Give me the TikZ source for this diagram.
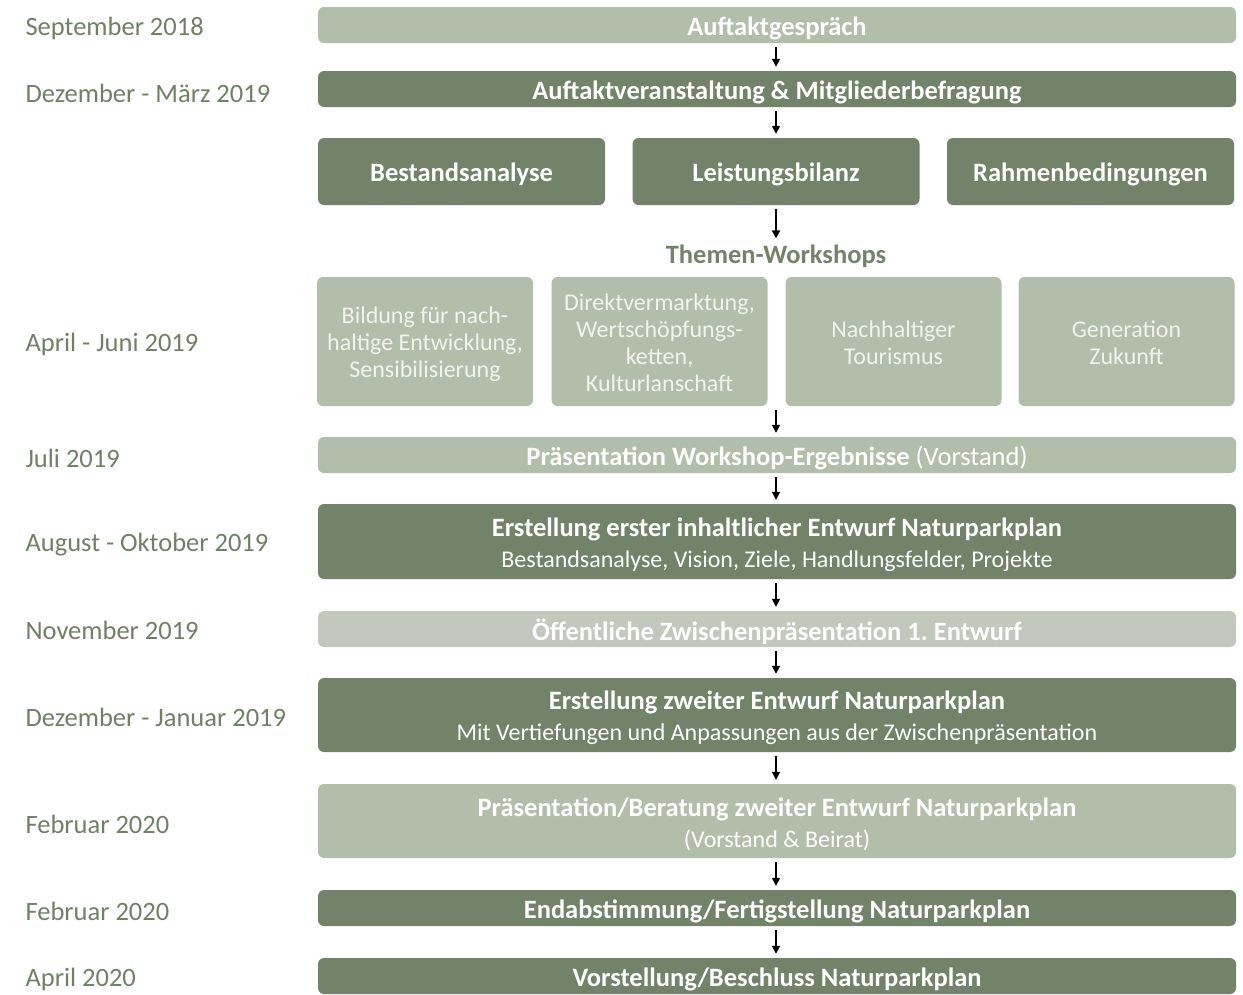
\documentclass[tikz,border=0pt]{standalone}
\usepackage{fontspec}
\setmainfont{Carlito}
\usetikzlibrary{arrows.meta}
\definecolor{lightgreen}{HTML}{B2BDAA}
\definecolor{darkgreen}{HTML}{72836A}
\definecolor{palegray}{HTML}{C2C8BD}
\definecolor{datecolor}{HTML}{6F8064}
\definecolor{softwhite}{HTML}{F1F3EE}
\newcommand{\sublinefont}{\fontsize{24}{29}\selectfont\mdseries}
\frenchspacing
\begin{document}
\begin{tikzpicture}[x=1pt,y=-1pt,
  boxtext/.style={inner sep=0pt, align=center, text=white, yshift=-3pt, font=\fontsize{26.5}{31}\selectfont\bfseries},
  wstext/.style={inner sep=0pt, align=center, text=softwhite, font=\fontsize{24}{27}\selectfont},
  base/.style={rounded corners=6pt, inner sep=0pt},
  lightbox/.style={base, fill=lightgreen},
  darkbox/.style={base, fill=darkgreen},
  palebox/.style={base, fill=palegray},
  wide/.style={minimum width=918pt},
  wsbox/.style={base, fill=lightgreen, minimum width=216pt, minimum height=129pt},
  date/.style={anchor=west, text=datecolor, yshift=-2pt, font=\fontsize{26.5}{31}\selectfont},
  arr/.style={-{Triangle[length=8pt,width=8pt]}, line width=1.4pt, black, shorten <=4pt, shorten >=4pt}
]
\useasboundingbox (0,0) rectangle (1243,994);

% timeline boxes
\node[lightbox, wide, minimum height=36pt, label={[boxtext]center:{Auftaktgespräch}}] (b1) at (777,25) {};
\node[darkbox, wide, minimum height=36pt, label={[boxtext]center:{Auftaktveranstaltung \& Mitgliederbefragung}}] (b2) at (777,89) {};

\node[darkbox, minimum width=287pt, minimum height=67pt, label={[boxtext]center:{Bestandsanalyse}}] (a1) at (461.5,171.5) {};
\node[darkbox, minimum width=287pt, minimum height=67pt, label={[boxtext]center:{Leistungsbilanz}}] (a2) at (776,171.5) {};
\node[darkbox, minimum width=287pt, minimum height=67pt, label={[boxtext]center:{Rahmenbedingungen}}] (a3) at (1090.5,171.5) {};

\node[text=darkgreen, font=\fontsize{26.5}{31}\selectfont\bfseries, inner sep=2pt] (tw) at (776,256) {Themen-Workshops};

% workshop topics
\node[wsbox, label={[wstext, yshift=-3pt]center:{Bildung für nach-\\haltige Entwicklung,\\Sensibilisierung}}] (w1) at (425,341.5) {};
\node[wsbox, label={[wstext, yshift=-1pt]center:{Direktvermarktung,\\Wertschöpfungs-\\ketten,\\Kulturlanschaft}}] (w2) at (659.5,341.5) {};
\node[wsbox, label={[wstext, yshift=-1pt]center:{Nachhaltiger\\Tourismus}}] (w3) at (893.5,341.5) {};
\node[wsbox, label={[wstext, yshift=-1pt]center:{Generation\\Zukunft}}] (w4) at (1126.5,341.5) {};
\coordinate (wsb) at (776,406);

\node[lightbox, wide, minimum height=36pt, label={[boxtext]center:{Präsentation Workshop-Ergebnisse {\mdseries (Vorstand)}}}] (p1) at (777,455) {};
\node[darkbox, wide, minimum height=75pt, label={[boxtext]center:{Erstellung erster inhaltlicher Entwurf Naturparkplan\\{\sublinefont Bestandsanalyse, Vision, Ziele, Handlungsfelder, Projekte}}}] (e1) at (777,541.5) {};
\node[palebox, wide, minimum height=36pt, label={[boxtext]center:{Öffentliche Zwischenpräsentation 1. Entwurf}}] (z1) at (777,629) {};
\node[darkbox, wide, minimum height=74pt, label={[boxtext]center:{Erstellung zweiter Entwurf Naturparkplan\\{\sublinefont Mit Vertiefungen und Anpassungen aus der Zwischenpräsentation}}}] (e2) at (777,715) {};
\node[lightbox, wide, minimum height=74pt, label={[boxtext]center:{Präsentation/Beratung zweiter Entwurf Naturparkplan\\{\sublinefont (Vorstand \& Beirat)}}}] (p2) at (777,821) {};
\node[darkbox, wide, minimum height=36pt, label={[boxtext]center:{Endabstimmung/Fertigstellung Naturparkplan}}] (f1) at (777,908) {};
\node[darkbox, wide, minimum height=36pt, label={[boxtext]center:{Vorstellung/Beschluss Naturparkplan}}] (v1) at (777,976) {};

% arrows
\draw[arr] (b1.south -| wsb) -- (b2.north -| wsb);
\draw[arr] (b2.south -| wsb) -- (a2.north);
\draw[arr] (a2.south) -- (tw.north);
\draw[arr] (wsb) -- (p1.north -| wsb);
\draw[arr] (p1.south -| wsb) -- (e1.north -| wsb);
\draw[arr] (e1.south -| wsb) -- (z1.north -| wsb);
\draw[arr] (z1.south -| wsb) -- (e2.north -| wsb);
\draw[arr] (e2.south -| wsb) -- (p2.north -| wsb);
\draw[arr] (p2.south -| wsb) -- (f1.north -| wsb);
\draw[arr] (f1.south -| wsb) -- (v1.north -| wsb);

% dates
\node[date] (d1) at (22,26) {September 2018};
\node[date] (d2) at (22,91) {Dezember - März 2019};
\node[date] (d3) at (22,342) {April - Juni 2019};
\node[date] (d4) at (22,456) {Juli 2019};
\node[date] (d5) at (22,543) {August - Oktober 2019};
\node[date] (d6) at (22,628) {November 2019};
\node[date] (d7) at (22,715) {Dezember - Januar 2019};
\node[date] (d8) at (22,822) {Februar 2020};
\node[date] (d9) at (22,909) {Februar 2020};
\node[date] (d10) at (22,977) {April 2020};
\end{tikzpicture}
\end{document}
